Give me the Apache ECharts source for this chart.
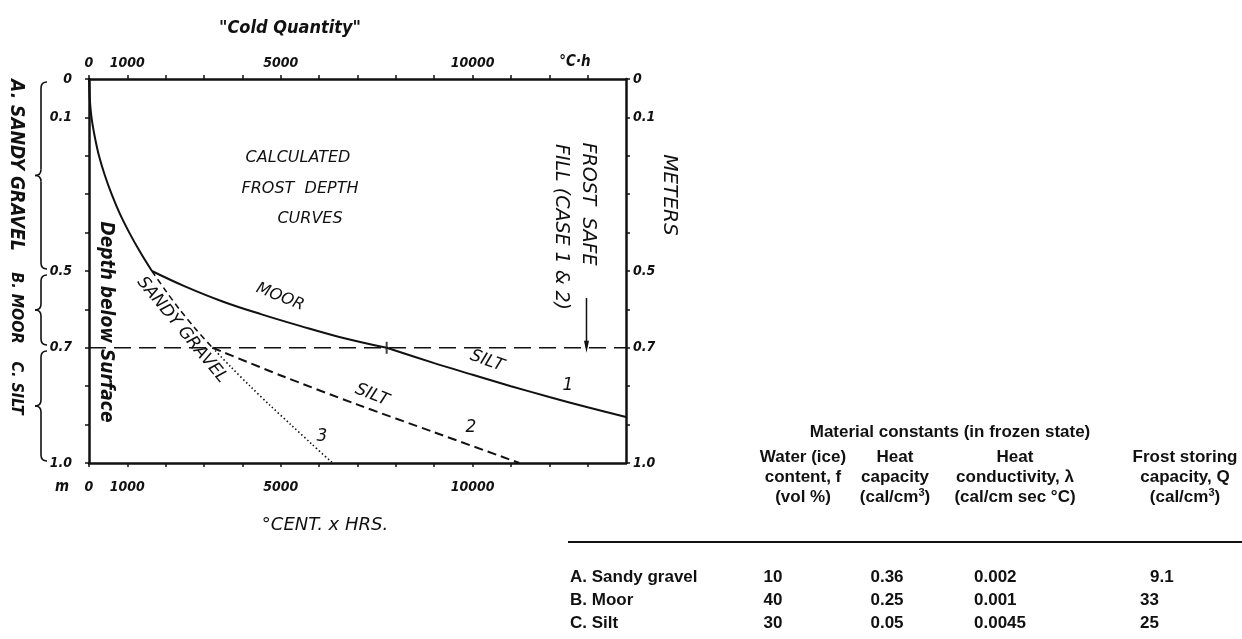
<!DOCTYPE html>
<html>
<head>
<meta charset="utf-8">
<script src="https://cdn.jsdelivr.net/npm/echarts@6/dist/echarts.min.js"></script>
<style>
  html, body { margin: 0; padding: 0; background: #ffffff; }
  #chart { width: 1242px; height: 639px; }
</style>
</head>
<body>
<div id="chart"></div>
<script>
// Cold quantity (°C·h) against frost depth below surface (m)
const coldRange = [0, 14000];
const depthRange = [0, 1];
const coldLabels = [0, 1000, 5000, 10000];
const depthLabels = [0, 0.1, 0.5, 0.7, 1.0];

// Case 1: sandy gravel to 0.5 m, moor to 0.7 m, silt below
const sandyGravelTop = [[0, 0], [20, 0.05], [65, 0.1], [150, 0.15], [260, 0.2], [410, 0.25], [590, 0.3], [800, 0.35], [1050, 0.4], [1330, 0.45], [1640, 0.5]];
const moorCase1 = [[1640, 0.5], [2500, 0.54], [3500, 0.58], [4500, 0.613], [5500, 0.643], [6500, 0.671], [7760, 0.7]];
const siltCase1 = [[7760, 0.7], [9000, 0.74], [10000, 0.77], [11000, 0.8], [12000, 0.828], [13000, 0.855], [14000, 0.88]];
// Case 2: sandy gravel to 0.7 m, silt below
const sandyGravelToFill = [[1640, 0.5], [1990, 0.55], [2360, 0.6], [2770, 0.65], [3220, 0.7]];
const siltCase2 = [[3220, 0.7], [5000, 0.772], [7000, 0.848], [9000, 0.92], [11220, 1.0]];
// Case 3: sandy gravel throughout
const sandyGravelCase3 = [[3220, 0.7], [3700, 0.75], [4200, 0.8], [4720, 0.85], [5260, 0.9], [5800, 0.95], [6350, 1.0]];
// Frost safe fill marker
const fillLine = [[0, 0.7], [14000, 0.7]];
const fillCrossing = [[7760, 0.7]];
const fillArrow = [[12970, 0.57], [12970, 0.697]];

// Material constants (in frozen state)
const tableTitle = 'Material constants (in frozen state)';
const tableHeaders = [
  ['Water (ice)', 'content, f', '(vol %)'],
  ['Heat', 'capacity', '(cal/cm{s|3})'],
  ['Heat', 'conductivity, λ', '(cal/cm sec °C)'],
  ['Frost storing', 'capacity, Q', '(cal/cm{s|3})']
];
const materials = ['A. Sandy gravel', 'B. Moor', 'C. Silt'];
const waterContent = ['10', '40', '30'];
const heatCapacity = ['0.36', '0.25', '0.05'];
const heatConductivity = ['0.002', '0.001', '0.0045'];
const frostStoring = ['9.1', '33', '25'];

const HAND = "'DejaVu Sans', sans-serif";
const HAND_NARROW = "'DejaVu Sans Condensed', 'DejaVu Sans', sans-serif";
const PRINT = "'Liberation Sans', Arial, sans-serif";
const INK = '#111111';

const chart = echarts.init(document.getElementById('chart'), null, { renderer: 'canvas' });

const round1 = v => Math.round(v * 10) / 10;
const coldFormatter = v => (coldLabels.indexOf(v) >= 0 ? String(v) : '');
const depthFormatter = v => {
  const r = round1(v);
  if (depthLabels.indexOf(r) < 0) return '';
  return r === 1 ? '1.0' : String(r);
};

const axisLabelStyle = {
  color: INK, fontFamily: HAND_NARROW, fontStyle: 'italic', fontWeight: 'bold', fontSize: 14
};

function xAxisDef(position, margin) {
  return {
    type: 'value', position: position, min: coldRange[0], max: coldRange[1], interval: 1000,
    axisLine: { show: true, onZero: false, lineStyle: { color: INK, width: 2.5 } },
    axisTick: { show: true, inside: false, length: 4, lineStyle: { color: INK, width: 1.5 } },
    splitLine: { show: false },
    axisLabel: Object.assign({ formatter: coldFormatter, margin: margin, showMaxLabel: false }, axisLabelStyle)
  };
}
function yAxisDef(position, margin) {
  return {
    type: 'value', position: position, inverse: true, min: depthRange[0], max: depthRange[1], interval: 0.1,
    axisLine: { show: true, onZero: false, lineStyle: { color: INK, width: 2.5 } },
    axisTick: { show: true, inside: false, length: 4, lineStyle: { color: INK, width: 1.5 } },
    splitLine: { show: false },
    axisLabel: Object.assign({ formatter: depthFormatter, margin: margin }, axisLabelStyle)
  };
}

function curve(data, width, type, smooth) {
  return {
    type: 'line', data: data, symbol: 'none', smooth: smooth, silent: true,
    lineStyle: { color: INK, width: width, type: type }, z: 3
  };
}

function txt(text, x, y, opts) {
  opts = opts || {};
  return {
    type: 'text', x: x, y: y, rotation: opts.rot || 0, silent: true,
    style: {
      text: text, fill: INK, align: opts.align || 'center', verticalAlign: 'middle',
      font: opts.font || ('italic 16px ' + HAND), rich: opts.rich
    }
  };
}

// Curly brace drawn from bezier pieces and straight runs
function brace(x, y0, y1) {
  const m = (y0 + y1) / 2;
  const st = { stroke: INK, lineWidth: 1.6, fill: null };
  const bz = (x1, y1_, cx, cy, x2, y2) => ({
    type: 'bezierCurve', silent: true, style: st,
    shape: { x1: x1, y1: y1_, cpx1: cx, cpy1: cy, x2: x2, y2: y2 }
  });
  const ln = (x1, y1_, x2, y2) => ({ type: 'line', silent: true, style: st, shape: { x1: x1, y1: y1_, x2: x2, y2: y2 } });
  return [
    bz(x + 6, y0, x, y0, x, y0 + 6),
    ln(x, y0 + 6, x, m - 6),
    bz(x, m - 6, x, m, x - 6, m),
    bz(x - 6, m, x, m, x, m + 6),
    ln(x, m + 6, x, y1 - 6),
    bz(x, y1 - 6, x, y1, x + 6, y1)
  ];
}

// Table text pieces
const tableFont = 'bold 17px ' + PRINT;
const supRich = { s: { fontSize: 11, fontWeight: 'bold', verticalAlign: 'top', padding: [0, 0, 8, 0], fontFamily: PRINT, fill: INK } };
const headerX = [803, 895, 1015, 1185];
const headerY = [457, 477, 497];
const rowY = [577, 600, 623];
const tableGraphics = [];
tableGraphics.push(txt(tableTitle, 950, 432, { font: tableFont }));
tableHeaders.forEach((col, ci) => {
  col.forEach((line, li) => {
    tableGraphics.push(txt(line, headerX[ci], headerY[li], { font: tableFont, rich: supRich }));
  });
});
tableGraphics.push({ type: 'line', shape: { x1: 568, y1: 542, x2: 1242, y2: 542 }, style: { stroke: INK, lineWidth: 2 }, silent: true });
const valueCols = [
  { vals: waterContent, x: 773 },
  { vals: heatCapacity, x: 887 },
  { vals: heatConductivity, x: 974, align: 'left' },
  { vals: frostStoring, x: 1140, align: 'left' }
];
materials.forEach((m, ri) => {
  tableGraphics.push(txt(m, 570, rowY[ri], { font: tableFont, align: 'left' }));
  valueCols.forEach(c => {
    const v = c.vals[ri];
    const x = (c.x === 1140 && v === '9.1') ? 1150 : c.x;
    tableGraphics.push(txt(v, x, rowY[ri], { font: tableFont, align: c.align || 'center' }));
  });
});

const option = {
  animation: false,
  backgroundColor: '#ffffff',
  grid: { left: 89, top: 79, width: 537, height: 384, containLabel: false },
  xAxis: [xAxisDef('bottom', 17), xAxisDef('top', 9)],
  yAxis: [yAxisDef('left', 17), yAxisDef('right', 7)],
  series: [
    curve(sandyGravelTop, 2, 'solid', 0.4),
    curve(moorCase1, 2, 'solid', 0.4),
    curve(siltCase1, 2, 'solid', 0.3),
    curve(sandyGravelToFill, 1.6, [6, 4], 0.3),
    curve(siltCase2, 2, [9, 5], 0.3),
    curve(sandyGravelCase3, 1.6, [1.5, 2.5], 0.3),
    curve(fillLine, 1.5, [17, 8], false),
    {
      type: 'scatter', data: fillCrossing, symbol: 'rect', symbolSize: [2, 12], silent: true,
      itemStyle: { color: INK }, z: 4
    },
    {
      type: 'line', silent: true, z: 4,
      data: [
        { value: fillArrow[0], symbol: 'none' },
        { value: fillArrow[1], symbol: 'triangle', symbolSize: [5, 12], symbolRotate: 180 }
      ],
      symbol: 'triangle', showSymbol: true,
      lineStyle: { color: INK, width: 1.5 }, itemStyle: { color: INK }
    }
  ],
  graphic: [
    txt('"Cold Quantity"', 290, 28, { font: 'italic bold 18px ' + HAND_NARROW }),
    txt('°C·h', 575, 62, { font: 'italic bold 15px ' + HAND_NARROW }),
    txt('m', 62, 487, { font: 'italic bold 15px ' + HAND_NARROW }),
    txt('°CENT. x HRS.', 325, 525, { font: 'italic 18px ' + HAND }),
    txt('A. SANDY GRAVEL', 16, 165, { rot: -Math.PI / 2, font: 'italic bold 19px ' + HAND_NARROW }),
    txt('B. MOOR', 16, 308, { rot: -Math.PI / 2, font: 'italic bold 16px ' + HAND_NARROW }),
    txt('C. SILT', 16, 388, { rot: -Math.PI / 2, font: 'italic bold 16px ' + HAND_NARROW })
  ].concat(brace(41, 82, 269), brace(41, 275, 345), brace(41, 351, 461), [
    txt('Depth below Surface', 106, 322, { rot: -Math.PI / 2, font: 'italic bold 19px ' + HAND_NARROW }),
    txt('CALCULATED', 298, 158, { font: 'italic 16px ' + HAND }),
    txt('FROST  DEPTH', 300, 189, { font: 'italic 16px ' + HAND }),
    txt('CURVES', 310, 219, { font: 'italic 16px ' + HAND }),
    txt('MOOR', 280, 297, { rot: -0.38, font: 'italic 16px ' + HAND }),
    txt('SANDY GRAVEL', 182, 330, { rot: -0.88, font: 'italic 17px ' + HAND }),
    txt('SILT', 487, 361, { rot: -0.35, font: 'italic 17px ' + HAND }),
    txt('SILT', 372, 395, { rot: -0.38, font: 'italic 17px ' + HAND }),
    txt('1', 568, 386, { font: 'italic 17px ' + HAND }),
    txt('2', 471, 428, { font: 'italic 17px ' + HAND }),
    txt('3', 322, 437, { font: 'italic 17px ' + HAND }),
    txt('FROST  SAFE', 588, 204, { rot: -Math.PI / 2, font: 'italic 19px ' + HAND }),
    txt('FILL (CASE 1 & 2)', 561, 227, { rot: -Math.PI / 2, font: 'italic 19px ' + HAND }),
    txt('METERS', 669, 195, { rot: -Math.PI / 2, font: 'italic 20px ' + HAND })
  ], tableGraphics)
};

chart.setOption(option);
</script>
</body>
</html>
